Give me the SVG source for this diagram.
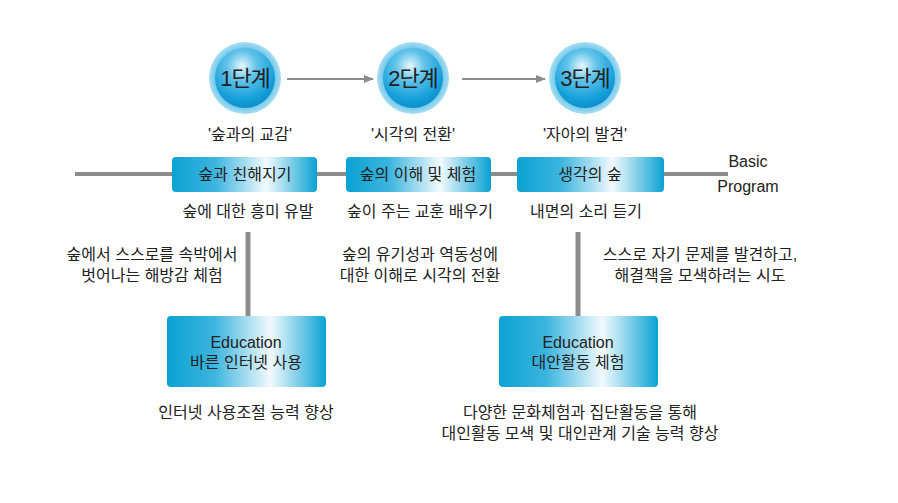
<svg xmlns="http://www.w3.org/2000/svg" width="898" height="503" viewBox="0 0 898 503">
<defs>
<radialGradient id="ring" cx="50%" cy="50%" r="50%">
<stop offset="0.8" stop-color="#6cc6ea"/>
<stop offset="1" stop-color="#a9def3"/>
</radialGradient>
<radialGradient id="ball" cx="45%" cy="30%" r="70%">
<stop offset="0" stop-color="#e8f7fd"/>
<stop offset="0.35" stop-color="#62c3ea"/>
<stop offset="0.8" stop-color="#14a0da"/>
<stop offset="1" stop-color="#0f8fcb"/>
</radialGradient>
<linearGradient id="box" x1="0" y1="0" x2="1" y2="0">
<stop offset="0" stop-color="#0aa2d4"/>
<stop offset="0.3" stop-color="#3db5de"/>
<stop offset="0.65" stop-color="#f2fafd"/>
<stop offset="1" stop-color="#0aa2d4"/>
</linearGradient>
<marker id="arr" markerWidth="10" markerHeight="10" refX="9" refY="5" orient="auto" markerUnits="userSpaceOnUse">
<path d="M0,1 L10,5 L0,9 Z" fill="#8c8c8c"/>
</marker>
<style>
text{font-family:"Liberation Sans","Noto Sans CJK KR",sans-serif;fill:#222;}
.t{font-size:16px;text-anchor:middle;}
.c{font-size:22px;text-anchor:middle;letter-spacing:-1px;}
.line{stroke:#8c8c8c;fill:none;}
</style>
</defs>

<g id="connectors">
<line class="line" x1="75" y1="174" x2="728" y2="174" stroke-width="4"/>
<line class="line" x1="248" y1="232" x2="248" y2="318" stroke-width="5"/>
<line class="line" x1="578" y1="232" x2="578" y2="318" stroke-width="5"/>
<line class="line" x1="287" y1="79" x2="373" y2="79" stroke-width="2" marker-end="url(#arr)"/>
<line class="line" x1="462" y1="79" x2="545" y2="79" stroke-width="2" marker-end="url(#arr)"/>
</g>

<g id="stage1">
<circle cx="245" cy="78" r="36" fill="url(#ring)"/>
<circle cx="245" cy="78" r="30" fill="url(#ball)"/>
<text class="c" x="245" y="86">1단계</text>
<text class="t" x="250" y="140">'숲과의 교감'</text>
</g>
<g id="stage2">
<circle cx="413" cy="78" r="36" fill="url(#ring)"/>
<circle cx="413" cy="78" r="30" fill="url(#ball)"/>
<text class="c" x="413" y="86">2단계</text>
<text class="t" x="413" y="140">'시각의 전환'</text>
</g>
<g id="stage3">
<circle cx="585" cy="78" r="36" fill="url(#ring)"/>
<circle cx="585" cy="78" r="30" fill="url(#ball)"/>
<text class="c" x="585" y="86">3단계</text>
<text class="t" x="585" y="140">'자아의 발견'</text>
</g>

<g id="box1">
<rect x="172" y="157" width="145" height="35" rx="4" fill="url(#box)"/>
<text class="t" x="245" y="180">숲과 친해지기</text>
<text class="t" x="248" y="217">숲에 대한 흥미 유발</text>
</g>
<g id="box2">
<rect x="346" y="157" width="145" height="35" rx="4" fill="url(#box)"/>
<text class="t" x="418" y="180">숲의 이해 및 체험</text>
<text class="t" x="420" y="217">숲이 주는 교훈 배우기</text>
</g>
<g id="box3">
<rect x="517" y="157" width="147" height="35" rx="4" fill="url(#box)"/>
<text class="t" x="590" y="180">생각의 숲</text>
<text class="t" x="586" y="217">내면의 소리 듣기</text>
</g>

<g id="basic">
<text class="t" x="748" y="167">Basic</text>
<text class="t" x="748" y="192">Program</text>
</g>

<g id="desc1">
<text class="t" x="152" y="260">숲에서 스스로를 속박에서</text>
<text class="t" x="152" y="281">벗어나는 해방감 체험</text>
</g>
<g id="desc2">
<text class="t" x="420" y="260">숲의 유기성과 역동성에</text>
<text class="t" x="420" y="281">대한 이해로 시각의 전환</text>
</g>
<g id="desc3">
<text class="t" x="700" y="260">스스로 자기 문제를 발견하고,</text>
<text class="t" x="700" y="281">해결책을 모색하려는 시도</text>
</g>

<g id="edu1">
<rect x="167" y="316" width="159" height="71" rx="4" fill="url(#box)"/>
<text class="t" x="246" y="348">Education</text>
<text class="t" x="246" y="368">바른 인터넷 사용</text>
<text class="t" x="246" y="418">인터넷 사용조절 능력 향상</text>
</g>
<g id="edu2">
<rect x="499" y="316" width="159" height="71" rx="4" fill="url(#box)"/>
<text class="t" x="578" y="348">Education</text>
<text class="t" x="578" y="368">대안활동 체험</text>
<text class="t" x="580" y="418">다양한 문화체험과 집단활동을 통해</text>
<text class="t" x="580" y="439">대인활동 모색 및 대인관계 기술 능력 향상</text>
</g>
</svg>
